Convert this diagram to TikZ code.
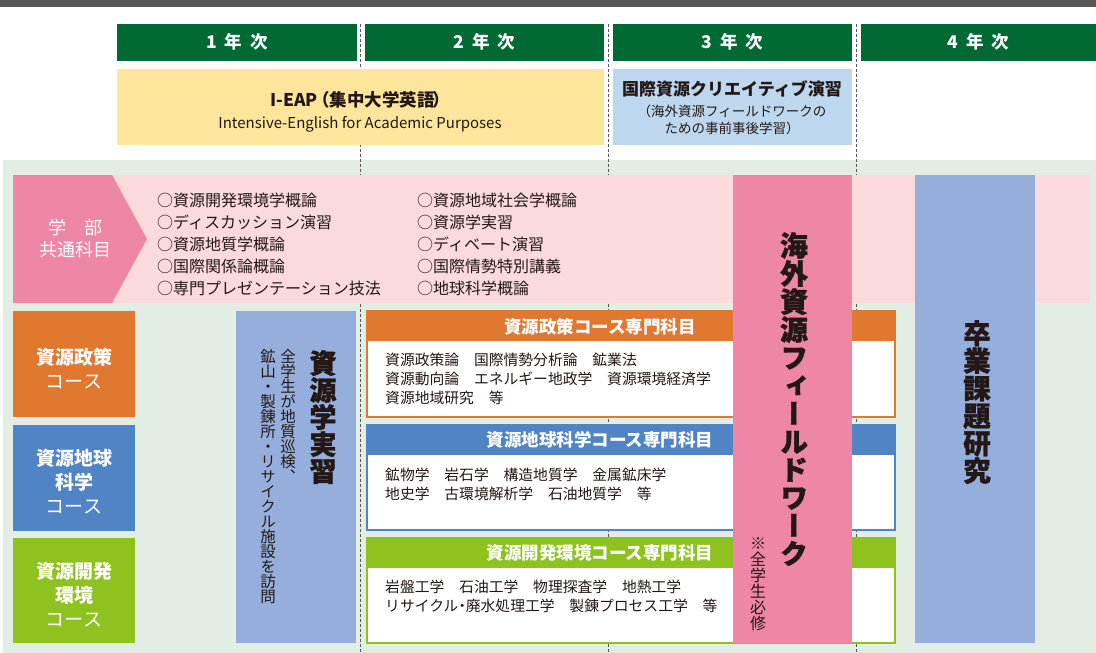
\documentclass[tikz,border=0pt]{standalone}
\usepackage{fontspec}
\setmainfont{Noto Sans CJK JP}
\newfontfamily\vjp[RawFeature=+vert]{Noto Sans CJK JP}
\newfontfamily\vjpheavy[RawFeature=+vert, BoldFeatures={FakeBold=1.2}]{Noto Sans CJK JP}
\makeatletter
\newcommand\tate[2][1]{\vbox{\baselineskip=#1em\lineskiplimit=-100pt\lineskip=0pt\@tfor\tatechar:=#2\do{\hbox to 1em{\hss\tatechar\hss}}}}
\makeatother
\definecolor{topgray}{HTML}{595757}
\definecolor{hgreen}{HTML}{006934}
\definecolor{eapyel}{HTML}{FDE69B}
\definecolor{cblue}{HTML}{BDD7EE}
\definecolor{bggreen}{HTML}{E2EDE3}
\definecolor{pinkl}{HTML}{FADADA}
\definecolor{pinkd}{HTML}{EE86A5}
\definecolor{barblue}{HTML}{95AEDB}
\definecolor{corange}{HTML}{E07830}
\definecolor{cblue2}{HTML}{5084C4}
\definecolor{cgreen}{HTML}{8EC31F}
\definecolor{dashgray}{HTML}{595757}
\definecolor{txt}{HTML}{231815}
\begin{document}
\begin{tikzpicture}[x=1pt,y=-1pt,
  fillbox/.style={rectangle, inner sep=0pt, outer sep=0pt, anchor=north west},
  yearhd/.style={fillbox, fill=hgreen, text=white, font=\bfseries\fontsize{17.5}{17.5}\selectfont, minimum height=37.5},
  course/.style={fillbox, draw=#1, fill=white, line width=1.4pt, minimum width=528, minimum height=106},
  band/.style={fillbox, fill=#1, minimum width=528, minimum height=30},
  bandtxt/.style={text=white, inner sep=0pt, font=\bfseries\fontsize{17.5}{17.5}\selectfont},
  bodytxt/.style={anchor=west, align=left, inner sep=0pt, text=txt, font=\fontsize{14.8}{19}\selectfont},
  labtxt/.style={align=center, text=white, inner sep=0pt, font=\fontsize{19}{24}\selectfont},
  listtxt/.style={anchor=west, align=left, inner sep=0pt, text=txt, font=\fontsize{16}{22}\selectfont},
  vbar/.style={fillbox, minimum width=120, minimum height=468},
  vtxt/.style={anchor=north, inner sep=0pt, text=txt},
  yrline/.style={draw=dashgray, line width=0.8pt, dash pattern=on 3pt off 2pt}]
\useasboundingbox (0,0) rectangle (1096,653);
% top bar
\fill[topgray] (0,0) rectangle (1096,7);
% background
\fill[bggreen] (3,160) rectangle (1096,653);
% year divider lines
\draw[yrline] (360,23.5) -- (360,653);
\draw[yrline] (608.5,23.5) -- (608.5,653);
\draw[yrline] (856.5,23.5) -- (856.5,653);
% year headers
\node[yearhd, minimum width=240] (yr1) at (117,23.5) {1\hspace{.45em}年\hspace{.45em}次};
\node[yearhd, minimum width=239] (yr2) at (365,23.5) {2\hspace{.45em}年\hspace{.45em}次};
\node[yearhd, minimum width=239] (yr3) at (613,23.5) {3\hspace{.45em}年\hspace{.45em}次};
\node[yearhd, minimum width=235] (yr4) at (861,23.5) {4\hspace{.45em}年\hspace{.45em}次};
% I-EAP
\node[fillbox, fill=eapyel, minimum width=487, minimum height=75.5] (eap) at (117,69) {};
\node[inner sep=0pt, text=txt, font=\bfseries\fontsize{17.5}{17.5}\selectfont] (eapt) at (360,100) {I-EAP\kern-.3em（集中大学英語\kern-.15em）};
\node[inner sep=0pt, text=txt, font=\fontsize{15}{15}\selectfont] (eaps) at (360,124) {Intensive-English for Academic Purposes};
% creative
\node[fillbox, fill=cblue, minimum width=239, minimum height=75.5] (cre) at (613,69) {};
\node[inner sep=0pt, text=txt, font=\bfseries\fontsize{17}{17}\selectfont] (cret) at (732,89) {国際資源クリエイティブ演習};
\node[inner sep=0pt, text=txt, align=center, font=\fontsize{13.5}{17}\selectfont] (cres) at (732,120) {（海外資源フィールドワークの\\ための事前事後学習）};
% common subjects row
\node[fillbox, fill=pinkl, minimum width=1077, minimum height=128] (common) at (13,175) {};
\fill[pinkd] (13,175) -- (112,175) -- (147,239) -- (112,303) -- (13,303) -- cycle;
\node[labtxt, font=\fontsize{18}{22}\selectfont] (comlab) at (75,239) {学　部\\共通科目};
\node[listtxt] (list1) at (157,244) {○資源開発環境学概論\\○ディスカッション演習\\○資源地質学概論\\○国際関係論概論\\○専門プレゼンテーション技法};
\node[listtxt] (list2) at (417,244) {○資源地域社会学概論\\○資源学実習\\○ディベート演習\\○国際情勢特別講義\\○地球科学概論};
% course labels
\node[fillbox, fill=corange, minimum width=122, minimum height=106] (polbox) at (13,311) {};
\node[labtxt] (pollab) at (74,369) {\textbf{資源政策}\\コース};
\node[fillbox, fill=cblue2, minimum width=122, minimum height=106] (geobox) at (13,425) {};
\node[labtxt] (geolab) at (74,482) {\textbf{資源地球}\\\textbf{科学}\\コース};
\node[fillbox, fill=cgreen, minimum width=122, minimum height=105] (devbox) at (13,538) {};
\node[labtxt] (devlab) at (74,595) {\textbf{資源開発}\\\textbf{環境}\\コース};
% practice bar
\node[fillbox, fill=barblue, minimum width=120, minimum height=332] (prac) at (236,311) {};
\node[vtxt, font=\vjpheavy\bfseries\fontsize{27}{27}\selectfont] (pract) at (323,350) {\tate{資源学実習}};
\node[vtxt, font=\vjp\fontsize{15.5}{15.5}\selectfont] (pracs1) at (288,349) {\tate[0.97]{全学生が地質巡検、}};
\node[vtxt, font=\vjp\fontsize{15.5}{15.5}\selectfont] (pracs2) at (268,349) {\tate[0.97]{鉱山・製錬所・リサイクル施設を訪問}};
% course-specific boxes
\node[course=corange] (pol) at (367,311) {};
\node[band=corange] (polband) at (367,311) {};
\node[bandtxt] (polt) at (600,327) {資源政策コース専門科目};
\node[bodytxt] (polb) at (385,379) {資源政策論　国際情勢分析論　鉱業法\\資源動向論　エネルギー地政学　資源環境経済学\\資源地域研究　等};
\node[course=cblue2, minimum height=105] (geo) at (367,425) {};
\node[band=cblue2] (geoband) at (367,425) {};
\node[bandtxt] (geot) at (600,440) {資源地球科学コース専門科目};
\node[bodytxt] (geob) at (385,484) {鉱物学　岩石学　構造地質学　金属鉱床学\\地史学　古環境解析学　石油地質学　等};
\node[course=cgreen, minimum height=105] (dev) at (367,538) {};
\node[band=cgreen] (devband) at (367,538) {};
\node[bandtxt] (devt) at (600,553) {資源開発環境コース専門科目};
\node[bodytxt] (devb) at (385,596) {岩盤工学　石油工学　物理探査学　地熱工学\\リサイクル\kern-.25em・\kern-.25em廃水処理工学　製錬プロセス工学　等};
% field work bar
\node[vbar, fill=pinkd, minimum width=119] (field) at (733,175) {};
\node[vtxt, font=\vjpheavy\bfseries\fontsize{28}{28}\selectfont] (fieldt) at (794,232) {\tate{海外資源フィールドワーク}};
\node[vtxt, font=\vjp\fontsize{16}{16}\selectfont] (fields) at (758,537) {\tate{※全学生必修}};
% graduation research bar
\node[vbar, fill=barblue] (grad) at (915,175) {};
\node[vtxt, font=\vjpheavy\bfseries\fontsize{27.5}{27.5}\selectfont] (gradt) at (977,320) {\tate{卒業課題研究}};
\end{tikzpicture}
\end{document}
